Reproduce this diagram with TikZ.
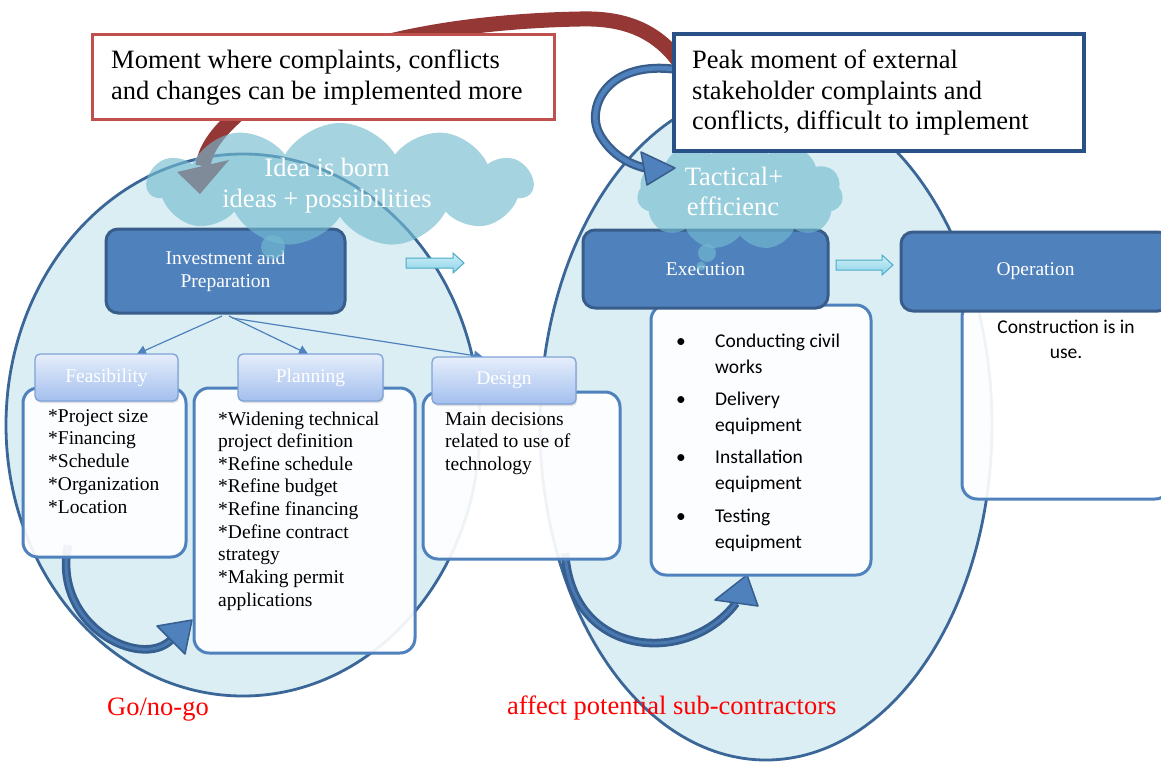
\documentclass[tikz,border=0pt]{standalone}
\usepackage{fontspec}
\setmainfont{Liberation Serif}
\newfontfamily\carlito{Carlito}
\usetikzlibrary{shapes.symbols,shadows,arrows.meta}

\definecolor{ellfill}{HTML}{DBEEF4}
\definecolor{elldraw}{HTML}{3A6698}
\definecolor{accent}{HTML}{4F81BD}
\definecolor{accentdk}{HTML}{385D8A}
\definecolor{cloudc}{HTML}{73BBD0}
\definecolor{redline}{HTML}{C0504D}
\definecolor{navy}{HTML}{2A5088}
\definecolor{darkred}{HTML}{953735}
\definecolor{hdtop}{HTML}{E6EEFB}
\definecolor{hdbot}{HTML}{A3BFEE}
\definecolor{hddraw}{HTML}{7FA2D8}
\definecolor{arrtop}{HTML}{CDEFF8}
\definecolor{arrbot}{HTML}{8ED3E8}
\definecolor{arrdraw}{HTML}{4BACC6}
\definecolor{banddk}{HTML}{365E8F}
\definecolor{bandlt}{HTML}{4A78B0}
\definecolor{labelred}{HTML}{FF0000}

\begin{document}
\begin{tikzpicture}[x=1pt,y=-1pt,
  midfont/.style={font=\fontsize{19.5}{23}\selectfont},
  bigfont/.style={font=\fontsize{26.5}{31}\selectfont},
  calfont/.style={font=\carlito\fontsize{19.5}{26}\selectfont},
  txt/.style={anchor=base west, inner sep=0pt},
  ctxt/.style={anchor=base, inner sep=0pt},
  ellstyle/.style={fill=ellfill, draw=elldraw, line width=2.8pt},
  bodybox/.style={rectangle, rounded corners=15pt, draw=accent, line width=3pt,
    fill=white, fill opacity=.92, inner sep=0pt},
  hdrbox/.style={rectangle, rounded corners=5pt, top color=hdtop, bottom color=hdbot,
    draw=hddraw, line width=1.3pt, text=white, midfont, inner sep=0pt,
    drop shadow={shadow xshift=1pt, shadow yshift=-2pt, opacity=.25}},
  mainbox/.style={rectangle, rounded corners=12pt, fill=accent, draw=accentdk,
    line width=3pt, text=white, midfont, align=center, inner sep=0pt},
  cloudshape/.style={cloud, cloud puffs=11, cloud puff arc=120, cloud ignores aspect,
    fill=cloudc, fill opacity=.64, draw=none, inner sep=0pt},
  band/.style={draw=banddk, line width=2.8pt, double=bandlt, double distance=3pt},
  bandhead/.style={fill=accent, draw=banddk, line width=1.5pt, line join=round},
  thinarrow/.style={draw=accent, line width=1.2pt, -{Triangle[width=10pt,length=9pt]}},
  flowarrow/.style={top color=arrtop, bottom color=arrbot, draw=arrdraw, line width=1pt},
  calloutbox/.style={rectangle, fill=white, inner sep=0pt},
]
\useasboundingbox (0,0) rectangle (1161,763);
\fill[white] (0,0) rectangle (1161,763);

% the two phase ellipses
\path[ellstyle] (243,425) ellipse [x radius=237pt, y radius=271pt];
\path[ellstyle] (766,425) ellipse [x radius=226pt, y radius=335pt];

% links from Investment and Preparation to its three steps
\coordinate (invL) at (222,316);
\coordinate (invM) at (229,316);
\coordinate (invR) at (232,318);
\draw[thinarrow] (invL) -- (137,354);
\draw[thinarrow] (invM) -- (308,354);
\draw[thinarrow] (invR) -- (483,357);

% curved feedback arrows at the bottom
\coordinate (goS) at (68,545);
\coordinate (goE) at (171,640);
\draw[band] (goS) .. controls (52,625) and (140,670) .. (goE);
\draw[bandhead] (157,626) -- (192,620) -- (185,654) -- cycle;
\coordinate (subS) at (565,553);
\coordinate (subE) at (736,603);
\draw[band] (subS) .. controls (572,660) and (690,665) .. (subE);
\draw[bandhead] (715,600) -- (747,575) -- (758,606) -- cycle;

% step bodies
\node[bodybox, minimum width=163pt, minimum height=169pt] (feasB) at (104.5,472.5) {};
\node[bodybox, minimum width=221pt, minimum height=265pt] (planB) at (304.5,520.5) {};
\node[bodybox, minimum width=197pt, minimum height=167pt] (desB) at (521.5,475.5) {};
\node[bodybox, minimum width=220pt, minimum height=270pt] (execB) at (761,440) {};
\node[bodybox, minimum width=208pt, minimum height=197pt] (operB) at (1066,400.5) {};

% step headers
\node[hdrbox, minimum width=143pt, minimum height=47pt] (feasH) at (106.5,377.5) {Feasibility};
\node[hdrbox, minimum width=145pt, minimum height=47pt] (planH) at (310.5,377.5) {Planning};
\node[hdrbox, minimum width=144pt, minimum height=47pt] (desH) at (504,380.5) {Design};

% body texts
\foreach \t [count=\i from 0] in {*Project size,*Financing,*Schedule,*Organization,*Location}
  \node[txt, midfont] (feasT\i) at (48,422+22.75*\i) {\t};
\foreach \t [count=\i from 0] in {*Widening technical,project definition,*Refine schedule,*Refine budget,*Refine financing,*Define contract,strategy,*Making permit,applications}
  \node[txt, midfont] (planT\i) at (218,425+22.65*\i) {\t};
\foreach \t [count=\i from 0] in {Main decisions,related to use of,technology}
  \node[txt, midfont] (desT\i) at (445,425+22.65*\i) {\t};

\foreach \a/\b/\y [count=\i] in {Conducting civil/works/347,Delivery/equipment/405,Installation/equipment/463,Testing/equipment/522}{
  \node[ctxt, calfont] (bul\i) at (681,\y) {\textbullet};
  \node[txt, calfont] (exA\i) at (715,\y) {\a};
  \node[txt, calfont] (exB\i) at (715,\y+26.5) {\b};
}
\node[ctxt, calfont] (oper1) at (1066,333) {Construction is in};
\node[ctxt, calfont] (oper2) at (1066,358) {use.};

% phase boxes
\node[mainbox, minimum width=239pt, minimum height=84pt] (inv) at (225.5,271) {Investment and\\Preparation};
\node[mainbox, minimum width=245pt, minimum height=78pt] (exec) at (705.5,269) {Execution};
\node[mainbox, minimum width=269pt, minimum height=79pt] (oper) at (1035.5,271.5) {Operation};

% flow arrows between phases
\path[flowarrow] (406,258) -- (453,258) -- (453,253) -- (464,263) -- (453,273) -- (453,268) -- (406,268) -- cycle;
\path[flowarrow] (836,260) -- (882,260) -- (882,255) -- (893,265) -- (882,275) -- (882,270) -- (836,270) -- cycle;

% thought cloud of the execution phase
\node[cloudshape, minimum width=206pt, minimum height=112pt] (tacCloud) at (740,194) {};
\fill[cloudc, fill opacity=.64] (707,253) circle (9pt);
\fill[cloudc, fill opacity=.64] (701,266) circle (4.5pt);

% curved arrow from the peak-moment callout into the cloud
\coordinate (peakS) at (680,70);
\coordinate (peakE) at (645,168);
\draw[draw=accentdk, line width=9pt] (peakS) .. controls (605,58) and (585,110) .. (600,135) .. controls (610,152) and (625,163) .. (peakE);
\draw[draw=accent, line width=4.5pt] (peakS) .. controls (605,58) and (585,110) .. (600,135) .. controls (610,152) and (625,163) .. (peakE);
\draw[bandhead, draw=accentdk] (641,152) -- (675,168) -- (647,185) -- cycle;

% long red arrow from the late phase back to the early phase
\coordinate (redS) at (682,66);
\coordinate (redE) at (203,166);
\draw[darkred, line width=15pt] (redS) .. controls (655,25) and (615,18) .. (580,19) .. controls (470,21) and (330,40) .. (255,100) .. controls (222,126) and (206,145) .. (redE);
\fill[darkred] (177,172) -- (229,160) -- (200,194) -- cycle;

% thought cloud of the early phase
\node[cloudshape, minimum width=385pt, minimum height=124pt] (ideaCloud) at (340,185) {};
\fill[cloudc, fill opacity=.64] (273,247) circle (12pt);

% cloud texts
\node[ctxt, bigfont, text=white] (idea1) at (327,176) {Idea is born};
\node[ctxt, bigfont, text=white] (idea2) at (327,207) {ideas + possibilities};
\node[ctxt, bigfont, text=white] (tac1) at (734,185) {Tactical+};
\node[ctxt, bigfont, text=white] (tac2) at (733,215) {efficienc};

% callouts
\node[calloutbox, draw=redline, line width=3pt, minimum width=462pt, minimum height=85pt] (early) at (323,76.5) {};
\node[txt, bigfont] (early1) at (111,68) {Moment where complaints, conflicts};
\node[txt, bigfont] (early2) at (111,99) {and changes can be implemented more};

\node[calloutbox, draw=navy, line width=3.5pt, minimum width=410pt, minimum height=117pt] (peak) at (879,92.5) {};
\node[txt, bigfont] (peak1) at (692,68) {Peak moment of external};
\node[txt, bigfont] (peak2) at (692,99) {stakeholder complaints and};
\node[txt, bigfont] (peak3) at (692,129) {conflicts, difficult to implement};

% red notes
\node[txt, bigfont, text=labelred] (gonogo) at (107,715) {Go/no-go};
\node[txt, bigfont, text=labelred] (subcon) at (507,714) {affect potential sub-contractors};
\end{tikzpicture}
\end{document}
